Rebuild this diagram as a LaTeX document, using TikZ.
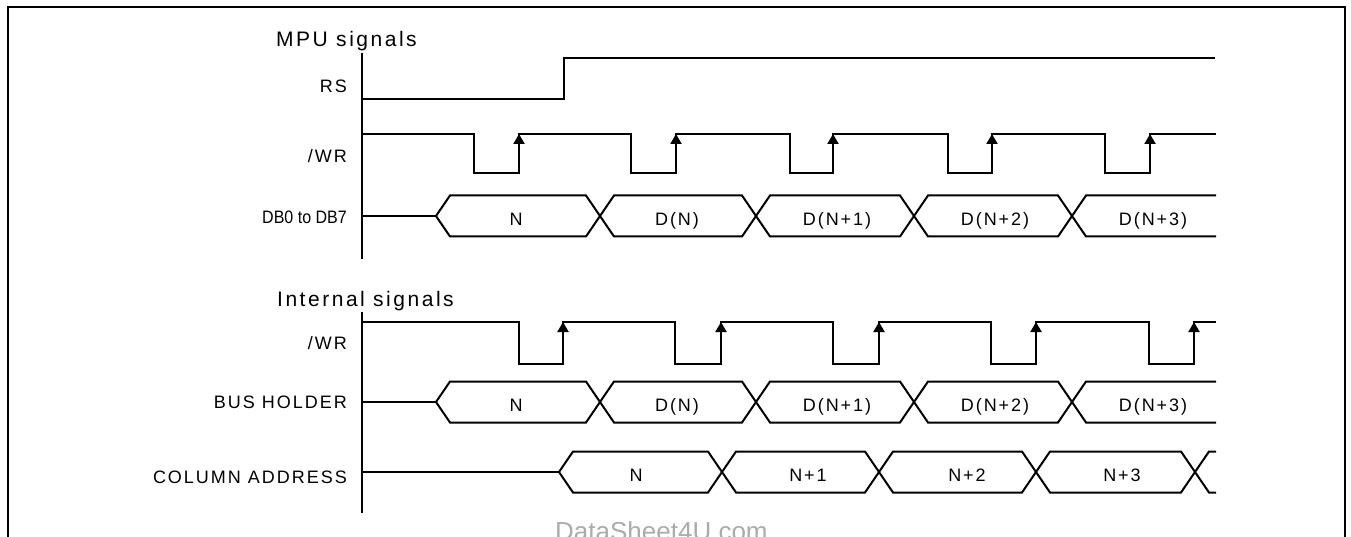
\documentclass[tikz,border=0pt]{standalone}
\usepackage{fontspec}
\setmainfont{Liberation Sans}
\newfontfamily\titlefont{Liberation Sans}[LetterSpace=12]
\newfontfamily\sigfont{Liberation Sans}[LetterSpace=11]
\usepackage{tikz}
\usetikzlibrary{arrows.meta}
\tikzset{>={Triangle[width=11pt,length=10pt]}}
\tikzset{
	wave/.style={line width=2pt, line join=miter},
	frame/.style={line width=2pt},
	title/.style={anchor=base west, inner sep=0pt, font=\titlefont\fontsize{21}{21}\selectfont},
	siglabel/.style={anchor=base east, inner sep=0pt, font=\sigfont\fontsize{18}{18}\selectfont},
	buslabel/.style={anchor=base, inner sep=0pt, font=\sigfont\fontsize{18}{18}\selectfont},
	watermark/.style={anchor=base west, inner sep=0pt, text=black!33, font=\fontsize{26}{26}\selectfont},
}
\newcommand{\buscell}[6]{% {name}{left x}{right x}{label x}{mid y}{label}
	\draw[wave] (#2,#5) -- (#2+14,#5-20.5) -- (#3-14,#5-20.5) -- (#3,#5) -- (#3-14,#5+20.5) -- (#2+14,#5+20.5) -- cycle; % hexagon
	\node[buslabel] (#1) at (#4,#5+9.5) {#6}; % label
}
\newcommand{\busopen}[6]{% {name}{left x}{end x}{label x}{mid y}{label}
	\draw[wave] (#3,#5-20.5) -- (#2+14,#5-20.5) -- (#2,#5) -- (#2+14,#5+20.5) -- (#3,#5+20.5); % open end
	\node[buslabel] (#1) at (#4,#5+9.5) {#6}; % label
}

\begin{document}
\begin{tikzpicture}[x=1pt,y=-1pt]
	\useasboundingbox (0,0) rectangle (1351,537);
	\draw[frame] (8,537) -- (8,7) -- (1345,7) -- (1345,537);

	% MPU signals
	\node[title] (mpu) at (276,47) {MPU signals};
	\draw[wave] (362,53) -- (362,259); % axis
	\node[siglabel] (rs) at (347,93) {RS};
	\node[siglabel] (wr) at (347,163) {/WR};
	\node[siglabel, font=\fontsize{18}{18}\selectfont] (db) at (347,224) {\scalebox{0.89}[1]{DB0 to DB7}};

	\draw[wave] (362,99) -- (564,99) -- (564,58) -- (1215,58); % RS
	\draw[wave] (362,134) \foreach \f/\r in {474/519,631/676,790/833,948/992,1105/1150} { -- (\f,134) -- (\f,173) -- (\r,173) -- (\r,134) } -- (1216,134);
	\foreach \r in {519,676,833,992,1150} \draw[wave,->] (\r,170) -- (\r,134); % strobe

	\draw[wave] (362,216) -- (436,216);
	\foreach \l/\r/\x/\t [count=\i] in {436/600/516/N, 600/756/677/D(N), 756/914/837/D(N+1), 914/1072/995/D(N+2)}
		\buscell{db-\i}{\l}{\r}{\x}{216}{\t};
	\busopen{db-5}{1072}{1216}{1153}{216}{D(N+3)};

	% Internal signals
	\node[title] (int) at (277,306) {Internal signals};
	\draw[wave] (362,312) -- (362,513); % axis
	\node[siglabel] (iwr) at (347,349) {/WR};
	\node[siglabel] (bh) at (347,408) {BUS HOLDER};
	\node[siglabel] (ca) at (347,483) {COLUMN ADDRESS};

	\draw[wave] (362,322) \foreach \f/\r in {519/563,675/721,833/879,991/1036,1149/1194} { -- (\f,322) -- (\f,364) -- (\r,364) -- (\r,322) } -- (1216,322);
	\foreach \r in {563,721,879,1036,1194} \draw[wave,->] (\r,361) -- (\r,322); % strobe

	\draw[wave] (362,402) -- (436,402);
	\foreach \l/\r/\x/\t [count=\i] in {436/600/516/N, 600/756/677/D(N), 756/914/837/D(N+1), 914/1072/995/D(N+2)}
		\buscell{bh-\i}{\l}{\r}{\x}{402}{\t};
	\busopen{bh-5}{1072}{1216}{1153}{402}{D(N+3)};

	\draw[wave] (362,472) -- (559,472);
	\foreach \l/\r/\x/\t [count=\i] in {559/722/636/N, 722/879/808/N+1, 879/1036/967/N+2, 1036/1195/1122/N+3}
		\buscell{ca-\i}{\l}{\r}{\x}{472}{\t};
	\draw[wave] (1216,451.5) -- (1209,451.5) -- (1195,472) -- (1209,492.5) -- (1216,492.5); % next cell

	\node[watermark] (wm) at (555,540) {DataSheet4U.com};
\end{tikzpicture}
\end{document}
